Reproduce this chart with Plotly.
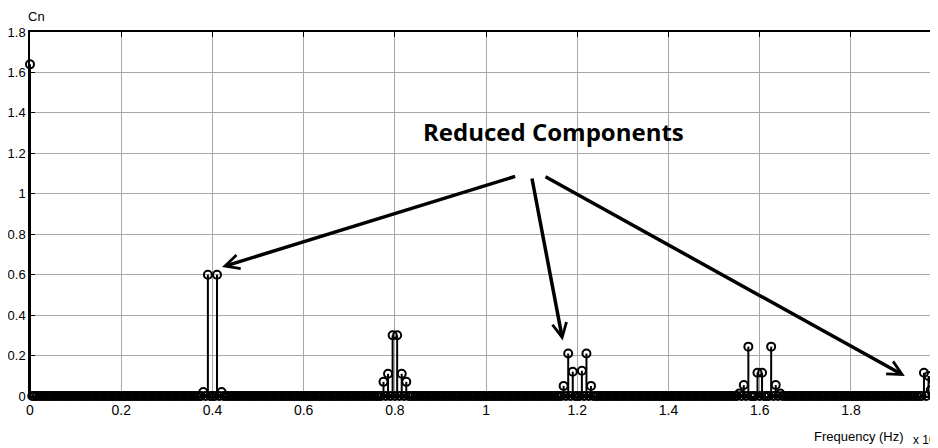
import numpy as np
import plotly.graph_objects as go

# ---- data (frequency in units of x10^4 Hz) ----
bin_step = 0.005
bin_count = 399
peak_freqs = [0.0, 0.38, 0.39, 0.41, 0.42,
              0.775, 0.785, 0.795, 0.805, 0.815, 0.825,
              1.17, 1.18, 1.19, 1.21, 1.22, 1.23,
              1.555, 1.565, 1.575, 1.595, 1.605, 1.625, 1.635, 1.645,
              1.96, 1.97, 1.975, 1.98, 1.985]
peak_values = [1.64, 0.02, 0.60, 0.60, 0.02,
               0.07, 0.11, 0.30, 0.30, 0.11, 0.07,
               0.05, 0.21, 0.12, 0.125, 0.21, 0.05,
               0.012, 0.054, 0.244, 0.115, 0.115, 0.244, 0.054, 0.012,
               0.115, 0.099, 0.03, 0.08, 0.02]

x_ticks = [0, 0.2, 0.4, 0.6, 0.8, 1.0, 1.2, 1.4, 1.6, 1.8]
x_tick_labels = ["0", "0.2", "0.4", "0.6", "0.8", "1", "1.2", "1.4", "1.6", "1.8"]
y_ticks = [0, 0.2, 0.4, 0.6, 0.8, 1.0, 1.2, 1.4, 1.6, 1.8]
y_tick_labels = ["0", "0.2", "0.4", "0.6", "0.8", "1", "1.2", "1.4", "1.6", "1.8"]

annotation_text = "Reduced Components"
arrow_tails = [(1.067, 1.088), (1.100, 1.083), (1.127, 1.088)]
arrow_heads = [(0.421, 0.638), (1.168, 0.275), (1.918, 0.099)]

# build full spectrum
freqs = np.round(np.arange(bin_count) * bin_step, 4)
values = np.zeros_like(freqs)
for f, v in zip(peak_freqs, peak_values):
    idx = int(round(f / bin_step))
    values[idx] = v

# stem lines
sx, sy = [], []
for f, v in zip(freqs, values):
    if v > 0:
        sx += [f, f, None]
        sy += [0, v, None]

fig = go.Figure()
fig.add_trace(go.Scatter(x=sx, y=sy, mode="lines",
                         line=dict(color="black", width=2),
                         hoverinfo="skip", showlegend=False, cliponaxis=False))
fig.add_trace(go.Scatter(x=freqs, y=values, mode="markers",
                         marker=dict(symbol="circle-open", size=8, color="black",
                                     line=dict(width=2, color="black")),
                         showlegend=False, cliponaxis=False))

font_x = dict(family="Liberation Sans, Arial, sans-serif", size=14, color="black")
font_y = dict(family="Liberation Sans, Arial, sans-serif", size=13, color="black")

# page body has an 8px margin: figure placed at (8, 8)
fig.update_layout(
    width=930, height=440,
    margin=dict(l=22, r=0, t=24, b=52, autoexpand=False),
    paper_bgcolor="white", plot_bgcolor="white",
    font=font_x,
    xaxis=dict(range=[0, 1.9908], tickvals=x_ticks, ticktext=x_tick_labels,
               showgrid=True, gridcolor="#a8a8a8", gridwidth=1,
               zeroline=False, showline=True, linecolor="black", linewidth=1.5,
               mirror="ticks", ticks="inside", ticklen=5, tickcolor="black",
               tickfont=font_x, automargin=False),
    yaxis=dict(range=[0, 1.8], tickvals=y_ticks, ticktext=y_tick_labels,
               showgrid=True, gridcolor="#a8a8a8", gridwidth=1,
               zeroline=False, showline=True, linecolor="black", linewidth=1.5,
               mirror="ticks", ticks="inside", ticklen=5, tickcolor="black",
               tickfont=font_y, automargin=False, ticklabelstandoff=0),
)

annotations = [
    dict(text="Cn", xref="paper", yref="paper", x=0.0, y=1.0, xanchor="center",
         yanchor="bottom", yshift=6, xshift=6, showarrow=False,
         font=dict(family="Liberation Sans, Arial, sans-serif", size=13, color="black")),
    dict(text="Frequency (Hz)", xref="paper", yref="paper", x=1.0, y=0.0,
         xanchor="right", yanchor="top", xshift=-32, yshift=-31, showarrow=False,
         font=dict(family="Liberation Sans, Arial, sans-serif", size=13, color="black")),
    dict(text="x 10", xref="paper", yref="paper", x=1.0, y=0.0,
         xanchor="right", yanchor="top", xshift=0, yshift=-35, showarrow=False,
         font=dict(family="Liberation Sans, Arial, sans-serif", size=12, color="black")),
    dict(text="<b>" + annotation_text + "</b>", xref="x", yref="y", x=1.147, y=1.31,
         xanchor="center", yanchor="middle", showarrow=False,
         font=dict(family="Open Sans, Noto Sans, sans-serif", size=24, color="black")),
]
for (tx, ty), (hx, hy) in zip(arrow_tails, arrow_heads):
    annotations.append(dict(
        x=hx, y=hy, ax=tx, ay=ty, xref="x", yref="y", axref="x", ayref="y",
        text="", showarrow=True, arrowhead=5, arrowsize=0.8, arrowwidth=3.5,
        arrowcolor="black", standoff=0))
fig.update_layout(annotations=annotations)

fig.write_html("out.html")
